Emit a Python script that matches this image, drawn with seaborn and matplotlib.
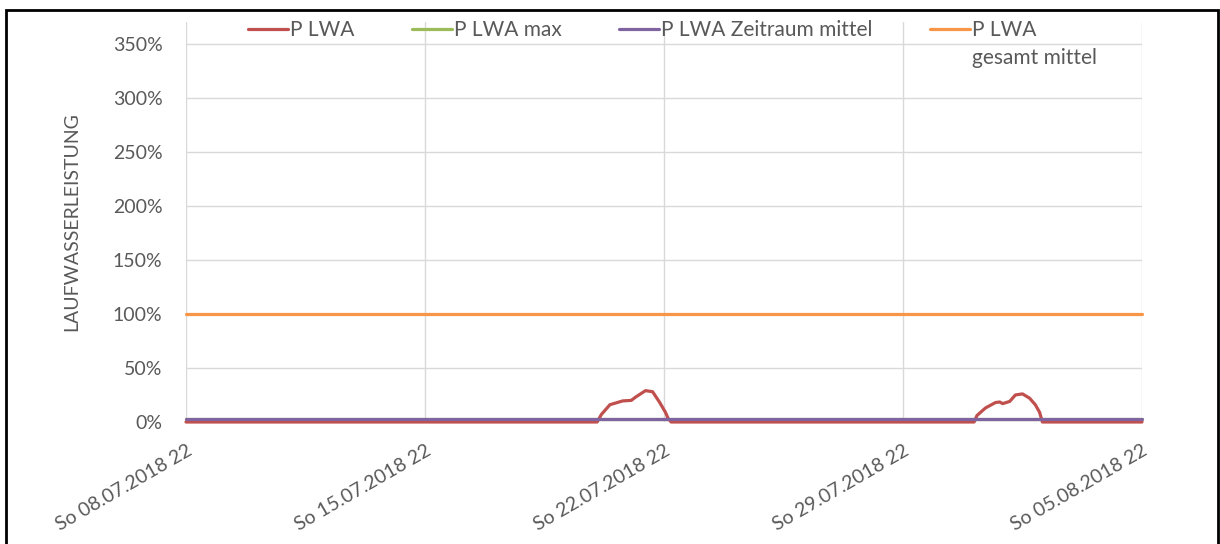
import pandas as pd
import numpy as np
import matplotlib.pyplot as plt
from matplotlib.patches import Rectangle
import seaborn as sns

# time axis: hourly offsets from the first tick
start = pd.Timestamp("2018-07-08 22:00")
end_hours = 672

# P LWA (percent) - flat zero with two humps
lwa_hours = [0, 289, 292, 298, 307, 313, 316, 323, 328, 333, 337, 339, 341,
             554, 556, 562, 569, 572, 574, 579, 583, 588, 593, 597, 600, 602, 672]
lwa_values = [0, 0, 7, 16, 19.5, 20, 23, 29, 28, 18, 9, 3, 0,
              0, 6, 13, 18, 18.5, 17, 19, 25, 26, 22, 16, 9, 0, 0]

max_value = 3.0          # P LWA max (hidden under the purple line)
zeitraum_mittel = 3.0    # P LWA Zeitraum mittel
gesamt_mittel = 100.0    # P LWA gesamt mittel

series_names = ["P LWA", "P LWA max", "P LWA Zeitraum mittel", "P LWA gesamt mittel"]
series_colors = ["#c0504d", "#9bbb59", "#8064a2", "#f79646"]

tick_dates = ["2018-07-08 22:00", "2018-07-15 22:00", "2018-07-22 22:00",
              "2018-07-29 22:00", "2018-08-05 22:00"]
tick_labels = ["So 08.07.2018 22", "So 15.07.2018 22", "So 22.07.2018 22",
               "So 29.07.2018 22", "So 05.08.2018 22"]
y_ticks = [0, 50, 100, 150, 200, 250, 300, 350]

# build long-form frame
frames = []
frames.append(pd.DataFrame({"Zeit": start + pd.to_timedelta(lwa_hours, unit="h"),
                            "Wert": lwa_values, "Serie": series_names[0]}))
for name, val in zip(series_names[1:], [max_value, zeitraum_mittel, gesamt_mittel]):
    frames.append(pd.DataFrame({"Zeit": start + pd.to_timedelta([0, end_hours], unit="h"),
                                "Wert": [val, val], "Serie": name}))
df = pd.concat(frames, ignore_index=True)

sns.set_theme(style="white")
plt.rcParams['font.family'] = ['Lato', 'DejaVu Sans']
text_col = "#595959"

fig = plt.figure(figsize=(12.2, 5.44), dpi=100)
ax = fig.add_axes([186 / 1220, 1 - 422 / 544, 956 / 1220, 400 / 544])

zorders = [3, 2, 4, 5]
for name, col, z in zip(series_names, series_colors, zorders):
    sns.lineplot(data=df[df["Serie"] == name], x="Zeit", y="Wert", color=col,
                 linewidth=2.3, label=name, estimator=None, ax=ax, zorder=z)
for ln in ax.get_lines():
    ln.set_clip_on(False)

ax.set_xlim(start, start + pd.Timedelta(hours=end_hours))
ax.set_ylim(0, 370)
ax.set_yticks(y_ticks)
ax.set_yticklabels([f"{v}%" for v in y_ticks])
ax.set_xticks(pd.to_datetime(tick_dates))
ax.set_xticklabels(tick_labels, rotation=30, ha="right", rotation_mode="anchor")
ax.tick_params(axis="y", length=0, pad=17, labelsize=14, labelcolor=text_col)
ax.tick_params(axis="x", length=0, pad=14, labelsize=14, labelcolor=text_col)
ax.grid(True, color="#d9d9d9", linewidth=1)
for s in ax.spines.values():
    s.set_visible(False)

ax.set_xlabel("")
ax.set_ylabel("LAUFWASSERLEISTUNG", fontsize=14, color=text_col)
ax.yaxis.set_label_coords(-0.111, 0.5)

handles, labels = ax.get_legend_handles_labels()
ax.get_legend().remove()
labels = ["P LWA", "P LWA max", "P LWA Zeitraum mittel", "P LWA"]
fig.legend(handles, labels, loc="center left", bbox_to_anchor=(248 / 1220, 1 - 30 / 544),
           ncol=4, frameon=False, fontsize=15, labelcolor=text_col,
           handlelength=1.92, handletextpad=0.1, columnspacing=2.75,
           borderpad=0, borderaxespad=0)
fig.text(972 / 1220, 1 - 58 / 544, "gesamt mittel", fontsize=15, color=text_col,
         ha="left", va="center")

# outer frame
fig.patches.append(Rectangle((6 / 1220, -0.05), 1212 / 1220, 1.05 - 10 / 544,
                             transform=fig.transFigure, fill=False,
                             edgecolor="black", linewidth=2))

fig.savefig("out.png", dpi=100)
